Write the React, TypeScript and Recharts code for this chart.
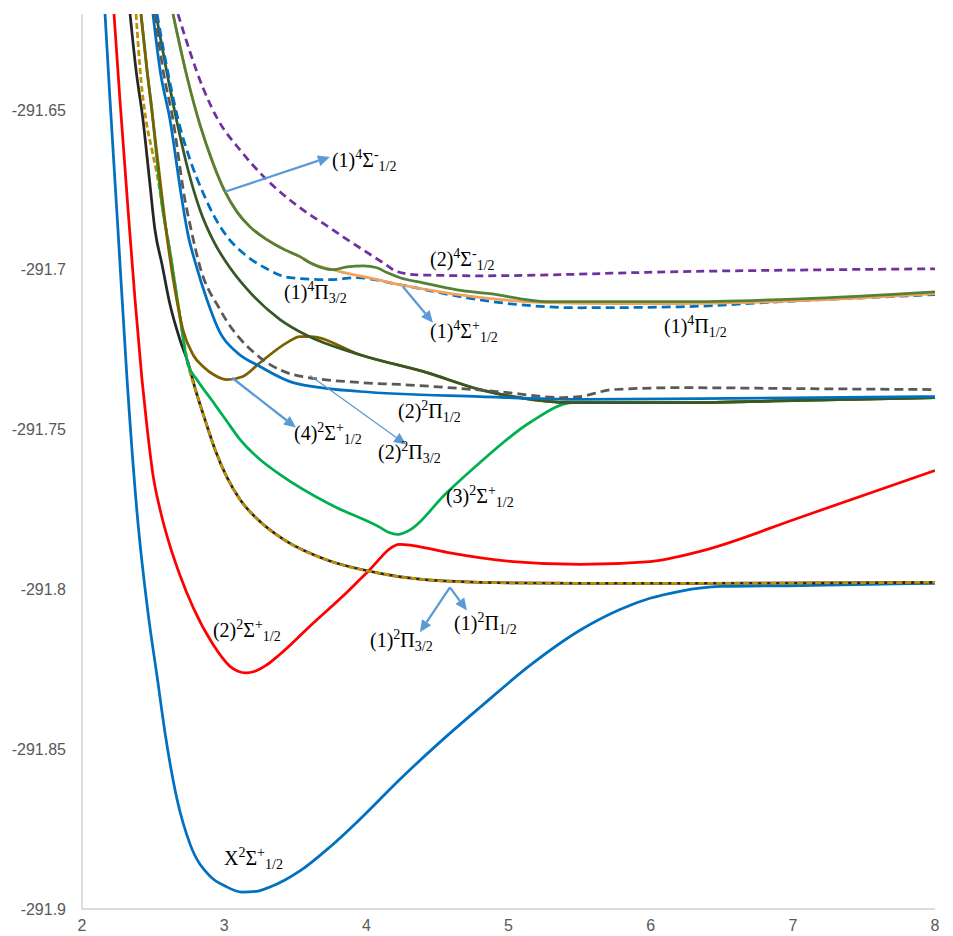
import { LineChart, Line, XAxis, YAxis, ReferenceDot, ReferenceLine } from "recharts";

type Pt = [number, number];
type Part = [string, "n" | "sup" | "sub"];

const SERIF = "'Liberation Serif', 'Times New Roman', serif";

const rTicks = [2, 3, 4, 5, 6, 7, 8];
const eTicks = [-291.9, -291.85, -291.8, -291.75, -291.7, -291.65];

// X2Σ+1/2
const x2Sigma: Pt[] = [
  [2.162, -291.62], [2.197, -291.6469], [2.253, -291.6875], [2.317, -291.7344], [2.387, -291.7759],
  [2.464, -291.8072], [2.528, -291.8272], [2.591, -291.8469], [2.668, -291.8656], [2.76, -291.8797],
  [2.9, -291.8897], [3.006, -291.8928], [3.125, -291.8947], [3.224, -291.8945], [3.322, -291.8931],
  [3.428, -291.8909], [3.533, -291.8881], [3.744, -291.8806], [3.955, -291.8719], [4.237, -291.8594],
  [4.518, -291.8478], [4.8, -291.8369], [5.151, -291.8238], [5.503, -291.8128], [5.784, -291.8063],
  [5.995, -291.8028], [6.206, -291.8006], [6.488, -291.7991], [7.05, -291.7988], [8, -291.7981],
];

// (2)2Σ+1/2
const red2Sigma: Pt[] = [
  [2.225, -291.62], [2.267, -291.6469], [2.324, -291.6813], [2.373, -291.7094], [2.422, -291.7344],
  [2.457, -291.7491], [2.499, -291.7641], [2.549, -291.775], [2.605, -291.7844], [2.689, -291.7956],
  [2.781, -291.8056], [2.921, -291.8172], [2.985, -291.8213], [3.041, -291.8241], [3.097, -291.8256],
  [3.154, -291.8261], [3.217, -291.8256], [3.294, -291.8238], [3.393, -291.8203], [3.625, -291.8106],
  [3.864, -291.8009], [4.005, -291.7947], [4.237, -291.7859], [4.328, -291.7863], [4.567, -291.7884],
  [5.032, -291.7913], [5.503, -291.7922], [5.995, -291.7913], [6.347, -291.7881], [7.05, -291.7775],
  [8, -291.7628],
];

// (1)2Π3/2
const pi32First: Pt[] = [
  [2.338, -291.62], [2.38, -291.6375], [2.429, -291.6531], [2.471, -291.6703], [2.513, -291.6875],
  [2.563, -291.6984], [2.619, -291.7109], [2.689, -291.7219], [2.746, -291.7291], [2.802, -291.7381],
  [2.865, -291.7469], [2.936, -291.7563], [3.02, -291.765], [3.111, -291.7719], [3.252, -291.7788],
  [3.428, -291.7847], [3.709, -291.7906], [4.096, -291.795], [4.328, -291.7966], [4.8, -291.7978],
  [5.503, -291.7981], [6.347, -291.7981], [8, -291.7978],
];

// (1)2Π1/2
const pi12First: Pt[] = [
  [2.38, -291.62], [2.415, -291.6406], [2.45, -291.6531], [2.492, -291.6625], [2.535, -291.6719],
  [2.563, -291.6797], [2.619, -291.6944], [2.675, -291.7106], [2.746, -291.7297], [2.802, -291.7381],
  [2.865, -291.7469], [2.936, -291.7563], [3.02, -291.765], [3.111, -291.7719], [3.252, -291.7788],
  [3.428, -291.7847], [3.709, -291.7906], [4.096, -291.795], [4.328, -291.7966], [4.8, -291.7978],
  [5.503, -291.7981], [6.347, -291.7981], [8, -291.7978],
];

// (3)2Σ+1/2
const green3Sigma: Pt[] = [
  [2.415, -291.62], [2.457, -291.6375], [2.492, -291.65], [2.52, -291.6625], [2.542, -291.6719],
  [2.563, -291.6797], [2.619, -291.6944], [2.675, -291.7106], [2.746, -291.7297], [2.809, -291.7344],
  [2.921, -291.7413], [3.02, -291.7475], [3.111, -291.7531], [3.252, -291.7594], [3.393, -291.7641],
  [3.744, -291.7734], [4.096, -291.7806], [4.16, -291.7822], [4.216, -291.7828], [4.286, -291.7819],
  [4.567, -291.7697], [4.8, -291.7603], [5.151, -291.7478], [5.454, -291.7416], [6.206, -291.7416],
  [7.05, -291.7409], [8, -291.74],
];

// (4)2Σ+1/2
const brown4Sigma: Pt[] = [
  [2.415, -291.62], [2.457, -291.6375], [2.499, -291.6531], [2.549, -291.6719], [2.591, -291.6875],
  [2.654, -291.7063], [2.71, -291.7188], [2.781, -291.7266], [2.851, -291.7303], [2.936, -291.7331],
  [3.02, -291.7344], [3.132, -291.7334], [3.252, -291.7291], [3.442, -291.7228], [3.533, -291.7209],
  [3.604, -291.7209], [3.955, -291.7266], [4.427, -291.7322], [4.8, -291.7375], [5.032, -291.7397],
  [5.454, -291.7416], [6.206, -291.7416], [7.05, -291.7409], [8, -291.74],
];

// unlabelled dark green state
const darkGreen: Pt[] = [
  [2.52, -291.62], [2.591, -291.6369], [2.668, -291.6538], [2.746, -291.6688], [2.83, -291.6813],
  [2.928, -291.6913], [3.041, -291.6994], [3.203, -291.7081], [3.393, -291.7156], [3.583, -291.7206],
  [3.955, -291.7266], [4.427, -291.7322], [4.8, -291.7375], [5.032, -291.7397], [5.454, -291.7416],
  [6.206, -291.7416], [7.05, -291.7409], [8, -291.74],
];

// (2)2Π1/2
const pi12Second: Pt[] = [
  [2.499, -291.62], [2.549, -291.6375], [2.619, -291.6531], [2.703, -291.6781], [2.746, -291.6891],
  [2.795, -291.6975], [2.879, -291.7094], [2.971, -291.7197], [3.09, -291.7259], [3.252, -291.7303],
  [3.484, -291.7353], [3.955, -291.7381], [4.8, -291.7397], [5.503, -291.7406], [6.347, -291.7403],
  [8, -291.7397],
];

// (2)2Π3/2
const pi32Second: Pt[] = [
  [2.513, -291.62], [2.57, -291.6375], [2.64, -291.6531], [2.724, -291.6781], [2.76, -291.6859],
  [2.83, -291.6991], [2.971, -291.7125], [3.252, -291.7275], [3.393, -291.7313], [3.484, -291.7328],
  [3.955, -291.7353], [4.237, -291.7359], [4.919, -291.7381], [5.383, -291.74], [5.503, -291.7397],
  [5.735, -291.7375], [6.206, -291.7369], [7.05, -291.7372], [8, -291.7375],
];

// (1)4Π
const quartetPi: Pt[] = [
  [2.528, -291.62], [2.619, -291.6416], [2.689, -291.6553], [2.76, -291.6656], [2.851, -291.6759],
  [2.936, -291.6838], [3.027, -291.69], [3.147, -291.6953], [3.287, -291.6994], [3.463, -291.7025],
  [3.744, -291.7031], [3.934, -291.7025], [4.237, -291.7047], [4.708, -291.7088], [4.94, -291.7103],
  [5.503, -291.7119], [6.206, -291.7116], [6.91, -291.71], [8, -291.7078],
];

// (1)4Σ+1/2
const quartetSigmaPlus: Pt[] = [
  [2.64, -291.62], [2.739, -291.6397], [2.83, -291.6547], [2.921, -291.6666], [3.006, -291.6756],
  [3.09, -291.6819], [3.182, -291.6866], [3.301, -291.6906], [3.428, -291.6938], [3.533, -291.6959],
  [3.604, -291.6978], [3.765, -291.7], [3.815, -291.7006], [4.047, -291.7028], [4.237, -291.7047],
  [4.518, -291.7069], [4.75, -291.7084], [5.271, -291.7103], [5.735, -291.7106], [6.206, -291.7106],
  [7.05, -291.7097], [8, -291.7075],
];

// (1)4Σ-1/2
const quartetSigmaMinus1: Pt[] = [
  [2.64, -291.62], [2.739, -291.6397], [2.83, -291.6547], [2.921, -291.6666], [3.006, -291.6756],
  [3.09, -291.6819], [3.182, -291.6866], [3.301, -291.6906], [3.428, -291.6938], [3.533, -291.6959],
  [3.604, -291.6978], [3.765, -291.7], [3.864, -291.6991], [3.977, -291.6988], [4.075, -291.6994],
  [4.145, -291.7009], [4.237, -291.7025], [4.399, -291.7041], [4.638, -291.7063], [4.87, -291.7075],
  [5.271, -291.71], [6.206, -291.71], [7.05, -291.7091], [8, -291.7069],
];

// (2)4Σ-1/2
const quartetSigmaMinus2: Pt[] = [
  [2.675, -291.62], [2.76, -291.6319], [2.851, -291.6431], [2.957, -291.6531], [3.111, -291.6625],
  [3.301, -291.6719], [3.533, -291.6806], [3.744, -291.6869], [3.836, -291.6897], [3.977, -291.6938],
  [4.117, -291.6978], [4.216, -291.7006], [4.356, -291.7016], [4.8, -291.7019], [6.206, -291.7006],
  [8, -291.6997],
];

const toRows = (pts: Pt[]) => pts.map(([r, e]) => ({ r, e }));

// drawing order, bottom to top
const series = [
  { id: "x2s", pts: x2Sigma, color: "#0070C0" },
  { id: "red", pts: red2Sigma, color: "#FF0000" },
  { id: "pi32a", pts: pi32First, color: "#262626" },
  { id: "pi12a", pts: pi12First, color: "#BF9000", dash: "6 3" },
  { id: "g3s", pts: green3Sigma, color: "#00B050" },
  { id: "b4s", pts: brown4Sigma, color: "#7F6000" },
  { id: "dg", pts: darkGreen, color: "#385723" },
  { id: "pi12b", pts: pi12Second, color: "#0070C0" },
  { id: "pi32b", pts: pi32Second, color: "#595959", dash: "9 5" },
  { id: "q4pi", pts: quartetPi, color: "#0070C0", dash: "9 5" },
  { id: "q4sp", pts: quartetSigmaPlus, color: "#F4A15D" },
  { id: "q4sm1", pts: quartetSigmaMinus1, color: "#548235" },
  { id: "q4sm2", pts: quartetSigmaMinus2, color: "#7030A0", dash: "8 5" },
];

const labels: { r: number; e: number; parts: Part[] }[] = [
  { r: 3.758, e: -291.6678, parts: [["(1)", "n"], ["4", "sup"], ["Σ", "n"], ["-", "sup"], ["1/2", "sub"]] },
  { r: 4.448, e: -291.6988, parts: [["(2)", "n"], ["4", "sup"], ["Σ", "n"], ["-", "sup"], ["1/2", "sub"]] },
  { r: 3.421, e: -291.7091, parts: [["(1)", "n"], ["4", "sup"], ["Π", "n"], ["3/2", "sub"]] },
  { r: 4.448, e: -291.7213, parts: [["(1)", "n"], ["4", "sup"], ["Σ", "n"], ["+", "sup"], ["1/2", "sub"]] },
  { r: 6.094, e: -291.7197, parts: [["(1)", "n"], ["4", "sup"], ["Π", "n"], ["1/2", "sub"]] },
  { r: 4.223, e: -291.7463, parts: [["(2)", "n"], ["2", "sup"], ["Π", "n"], ["1/2", "sub"]] },
  { r: 3.491, e: -291.7534, parts: [["(4)", "n"], ["2", "sup"], ["Σ", "n"], ["+", "sup"], ["1/2", "sub"]] },
  { r: 4.082, e: -291.7591, parts: [["(2)", "n"], ["2", "sup"], ["Π", "n"], ["3/2", "sub"]] },
  { r: 4.56, e: -291.7731, parts: [["(3)", "n"], ["2", "sup"], ["Σ", "n"], ["+", "sup"], ["1/2", "sub"]] },
  { r: 2.921, e: -291.815, parts: [["(2)", "n"], ["2", "sup"], ["Σ", "n"], ["+", "sup"], ["1/2", "sub"]] },
  { r: 4.026, e: -291.8181, parts: [["(1)", "n"], ["2", "sup"], ["Π", "n"], ["3/2", "sub"]] },
  { r: 4.617, e: -291.8128, parts: [["(1)", "n"], ["2", "sup"], ["Π", "n"], ["1/2", "sub"]] },
  { r: 2.999, e: -291.8863, parts: [["X", "n"], ["2", "sup"], ["Σ", "n"], ["+", "sup"], ["1/2", "sub"]] },
];

const arrows: { from: Pt; to: Pt; thin?: boolean }[] = [
  { from: [3.006, -291.6756], to: [3.744, -291.6647] },
  { from: [4.258, -291.7053], to: [4.469, -291.7166] },
  { from: [3.055, -291.7338], to: [3.505, -291.7494] },
  { from: [3.604, -291.7331], to: [4.279, -291.7547], thin: true },
  { from: [4.588, -291.7994], to: [4.377, -291.8134] },
  { from: [4.588, -291.7994], to: [4.708, -291.8066] },
];

function StateLabel({ cx, cy, parts }: { cx: number; cy: number; parts: Part[] }) {
  let level = 0;
  return (
    <text x={cx} y={cy} fontFamily={SERIF} fontSize={20} fill="#000">
      {parts.map(([t, kind], i) => {
        const target = kind === "sup" ? -8 : kind === "sub" ? 4 : 0;
        const dy = target - level;
        level = target;
        return (
          <tspan key={i} dy={dy} fontSize={kind === "n" ? 20 : 14}>
            {t}
          </tspan>
        );
      })}
    </text>
  );
}

function ArrowShape(props: any) {
  const { x1, y1, x2, y2, thin } = props;
  const ang = Math.atan2(y2 - y1, x2 - x1);
  const len = 12;
  const half = 5.5;
  const bx = x2 - len * Math.cos(ang);
  const by = y2 - len * Math.sin(ang);
  const px = -Math.sin(ang) * half;
  const py = Math.cos(ang) * half;
  return (
    <g>
      <line x1={x1} y1={y1} x2={bx} y2={by} stroke="#5B9BD5" strokeWidth={thin ? 1.3 : 2.3} />
      <polygon points={`${x2},${y2} ${bx + px},${by + py} ${bx - px},${by - py}`} fill="#5B9BD5" />
    </g>
  );
}

const tickStyle = { fill: "#595959", fontSize: 16, fontFamily: "'Liberation Sans', Arial, sans-serif" };

export default function App() {
  return (
    <div style={{ position: "absolute", left: 0, top: 0, background: "#fff" }}>
      <LineChart width={953} height={936} margin={{ top: 14, right: 18, bottom: 0, left: 0 }}>
        <XAxis
          type="number"
          dataKey="r"
          domain={[2, 8]}
          ticks={rTicks}
          allowDataOverflow
          height={27}
          axisLine={{ stroke: "#D0D0D0", strokeWidth: 1.5 }}
          tickLine={false}
          tickSize={6}
          tickMargin={5}
          tick={tickStyle}
        />
        <YAxis
          type="number"
          dataKey="e"
          domain={[-291.9, -291.62]}
          ticks={eTicks}
          allowDataOverflow
          width={82}
          axisLine={{ stroke: "#D0D0D0", strokeWidth: 1.5 }}
          tickLine={false}
          tickSize={6}
          tickMargin={10}
          tick={tickStyle}
          tickFormatter={(v: number) => String(v)}
        />
        {series.map((s) => (
          <Line
            key={s.id}
            data={toRows(s.pts)}
            dataKey="e"
            type="monotone"
            stroke={s.color}
            strokeWidth={2.75}
            strokeDasharray={s.dash}
            dot={false}
            activeDot={false}
            isAnimationActive={false}
          />
        ))}
        {arrows.map((a, i) => (
          <ReferenceLine
            key={`a${i}`}
            segment={[
              { x: a.from[0], y: a.from[1] },
              { x: a.to[0], y: a.to[1] },
            ]}
            shape={(p: any) => <ArrowShape {...p} thin={a.thin} />}
          />
        ))}
        {labels.map((l, i) => (
          <ReferenceDot
            key={`l${i}`}
            x={l.r}
            y={l.e}
            r={0}
            shape={(p: any) => <StateLabel cx={p.cx} cy={p.cy} parts={l.parts} />}
          />
        ))}
      </LineChart>
    </div>
  );
}
